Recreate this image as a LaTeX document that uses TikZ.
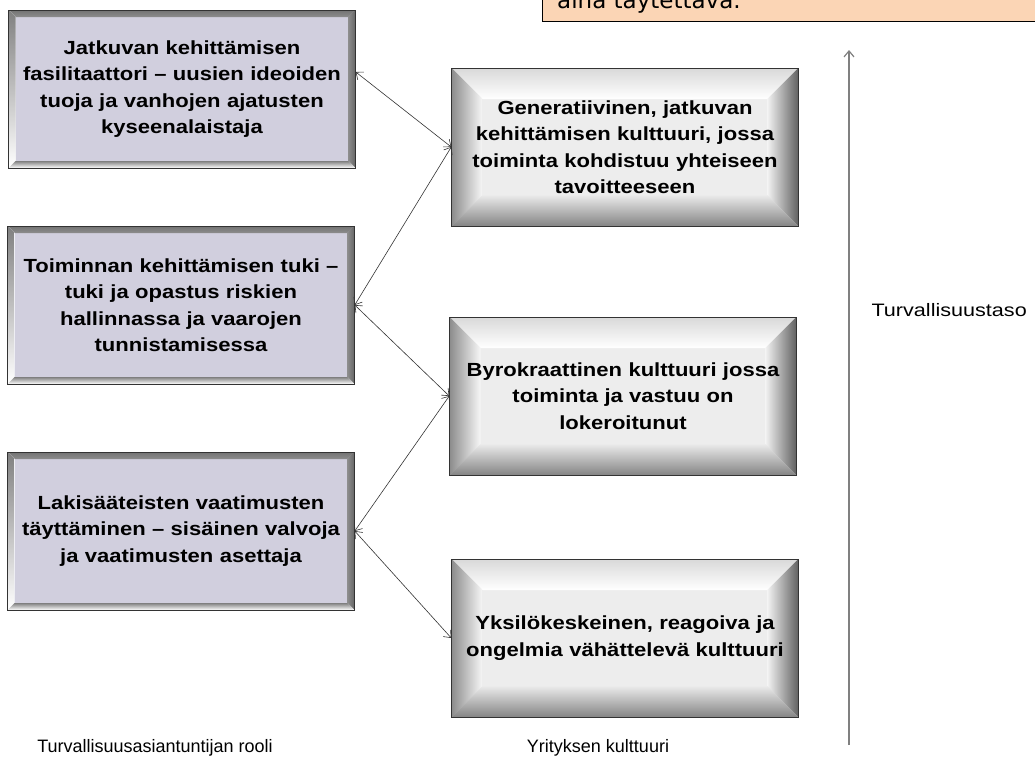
\documentclass[tikz,border=0pt]{standalone}
\usepackage{fontspec}
\setmainfont{Liberation Sans}
\newfontfamily\boxfont[FakeStretch=1.16]{Liberation Sans Bold}
\newfontfamily\widefont[FakeStretch=1.2]{Liberation Sans}
\newfontfamily\notefont{DejaVu Sans}
\usetikzlibrary{arrows.meta}

\definecolor{roleFill}{RGB}{209,207,222}
\definecolor{cultFill}{RGB}{237,237,237}
\definecolor{noteFill}{RGB}{251,213,181}

\begin{document}
\begin{tikzpicture}[
  x=1pt, y=-1pt,
  bevel/.style n args={5}{path picture={
    \coordinate (pa) at (path picture bounding box.north west);
    \coordinate (pb) at (path picture bounding box.north east);
    \coordinate (pc) at (path picture bounding box.south east);
    \coordinate (pd) at (path picture bounding box.south west);
    \coordinate (qa) at ([xshift=#1,yshift=-#1]pa);
    \coordinate (qb) at ([xshift=-#1,yshift=-#1]pb);
    \coordinate (qc) at ([xshift=-#1,yshift=#1]pc);
    \coordinate (qd) at ([xshift=#1,yshift=#1]pd);
    \shade[#2] (pa) -- (pb) -- (qb) -- (qa) -- cycle;
    \shade[#3] (pa) -- (qa) -- (qd) -- (pd) -- cycle;
    \shade[#4] (pb) -- (pc) -- (qc) -- (qb) -- cycle;
    \shade[#5] (pd) -- (qd) -- (qc) -- (pc) -- cycle;
  }},
  role/.style={draw=black!80, line width=0.8pt, fill=roleFill,
               minimum width=346pt, minimum height=158pt, text width=340pt,
               align=center, font=\boxfont\fontsize{19}{26.5}\selectfont,
               bevel={7pt}{top color=black!55, bottom color=black!45}{fill=white}%
                 {left color=black!45, right color=black!60}{fill=white}},
  cult/.style={draw=black!80, line width=0.8pt, fill=cultFill,
               minimum width=346pt, minimum height=158pt, text width=340pt,
               align=center, font=\boxfont\fontsize{19}{26.5}\selectfont,
               bevel={31pt}{top color=black!15, bottom color=white}%
                 {left color=black!45, right color=black!3}%
                 {left color=black!5, right color=black!62}%
                 {top color=black!8, bottom color=black!48}},
  lbl/.style={font=\fontsize{18}{20}\selectfont},
  e/.style={draw=black!80, line width=0.6pt, >={Straight Barb[length=6pt,width=10pt]}, <->}
]
\useasboundingbox (0,0) rectangle (1035,763);

% note box, cut off by the page top
\node[draw=black, line width=0.8pt, fill=noteFill, minimum width=520pt, minimum height=60pt,
      anchor=south west, inner sep=0pt] (note) at (542,22) {};
\node[font=\notefont\fontsize{23}{26}\selectfont, anchor=base west, inner sep=0pt] (notetext)
      at (557,8) {aina täytettävä.};

% expert roles
\node[role] (role1) at (182,89)  {Jatkuvan kehittämisen\\fasilitaattori – uusien ideoiden\\tuoja ja vanhojen ajatusten\\kyseenalaistaja};
\node[role] (role2) at (181,305) {Toiminnan kehittämisen tuki –\\tuki ja opastus riskien\\hallinnassa ja vaarojen\\tunnistamisessa};
\node[role] (role3) at (181,531) {Lakisääteisten vaatimusten\\täyttäminen – sisäinen valvoja\\ja vaatimusten asettaja};

% company cultures
\node[cult] (cult1) at (625,147) {Generatiivinen, jatkuvan\\kehittämisen kulttuuri, jossa\\toiminta kohdistuu yhteiseen\\tavoitteeseen};
\node[cult] (cult2) at (623,396) {Byrokraattinen kulttuuri jossa\\toiminta ja vastuu on\\lokeroitunut};
\node[cult] (cult3) at (625,638) {Yksilökeskeinen, reagoiva ja\\ongelmia vähättelevä kulttuuri};

% level axis
\coordinate (axbot) at (849,745);
\coordinate (axtop) at (849,50);
\draw[draw=black!50, line width=1.2pt, -{Straight Barb[length=6pt,width=10pt]}] (axbot) -- (axtop);
\node[font=\widefont\fontsize{18}{20}\selectfont, anchor=west] (level) at (868,310) {Turvallisuustaso};

% captions
\node[lbl] (rolecap) at (155,748) {Turvallisuusasiantuntijan rooli};
\node[lbl] (cultcap) at (598,748) {Yrityksen kulttuuri};

% edges
\draw[e] ([yshift=17pt]role1.east) -- (cult1.west);
\draw[e] (role2.east) -- (cult1.west);
\draw[e] (role2.east) -- (cult2.west);
\draw[e] (role3.east) -- (cult2.west);
\draw[e] (role3.east) -- (cult3.west);

\end{tikzpicture}
\end{document}
